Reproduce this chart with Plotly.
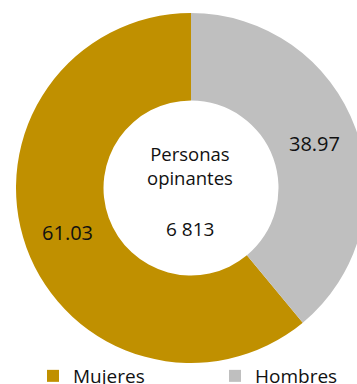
import plotly.graph_objects as go

categories = ["Mujeres", "Hombres"]
values = [61.03, 38.97]
colors = ["#C09000", "#BFBFBF"]
center_title = "Personas<br>opinantes"
center_total = "6 813"

W, H = 420, 400
FONT = "Open Sans"

# first slice (Mujeres) starts where the Hombres slice (drawn from 12 o'clock clockwise) ends
start_angle = values[1] / sum(values) * 360

fig = go.Figure()
fig.add_trace(go.Pie(
    labels=categories,
    values=values,
    hole=0.5,
    sort=False,
    direction="clockwise",
    rotation=start_angle,
    marker=dict(colors=colors, line=dict(width=0)),
    texttemplate="%{value:.2f}",
    textposition="inside",
    insidetextorientation="horizontal",
    textfont=dict(family=FONT, size=20, color="#111111"),
    domain=dict(x=[16 / W, 366 / W], y=[(H - 363) / H, (H - 13) / H]),
    hoverinfo="label+value",
))

fig.add_annotation(text=center_title, x=190 / W, y=(H - 165) / H, xref="paper", yref="paper",
                   xanchor="center", yanchor="middle", showarrow=False,
                   font=dict(family=FONT, size=18.5, color="#111111"))
fig.add_annotation(text=center_total, x=190 / W, y=(H - 229) / H, xref="paper", yref="paper",
                   xanchor="center", yanchor="middle", showarrow=False,
                   font=dict(family=FONT, size=19, color="#111111"))

fig.update_layout(
    width=W, height=H,
    margin=dict(l=0, r=0, t=0, b=0, autoexpand=False),
    paper_bgcolor="white", plot_bgcolor="white",
    showlegend=True,
    legend=dict(orientation="h", x=33 / W, xanchor="left", y=(H - 357) / H, yanchor="top",
                font=dict(family=FONT, size=19, color="#111111"),
                entrywidth=137, entrywidthmode="pixels", itemwidth=30,
                bgcolor="rgba(0,0,0,0)"),
)

fig.write_html("out.html", config={"displayModeBar": False},
               post_script="document.body.style.margin='0';document.body.style.overflow='hidden';")
